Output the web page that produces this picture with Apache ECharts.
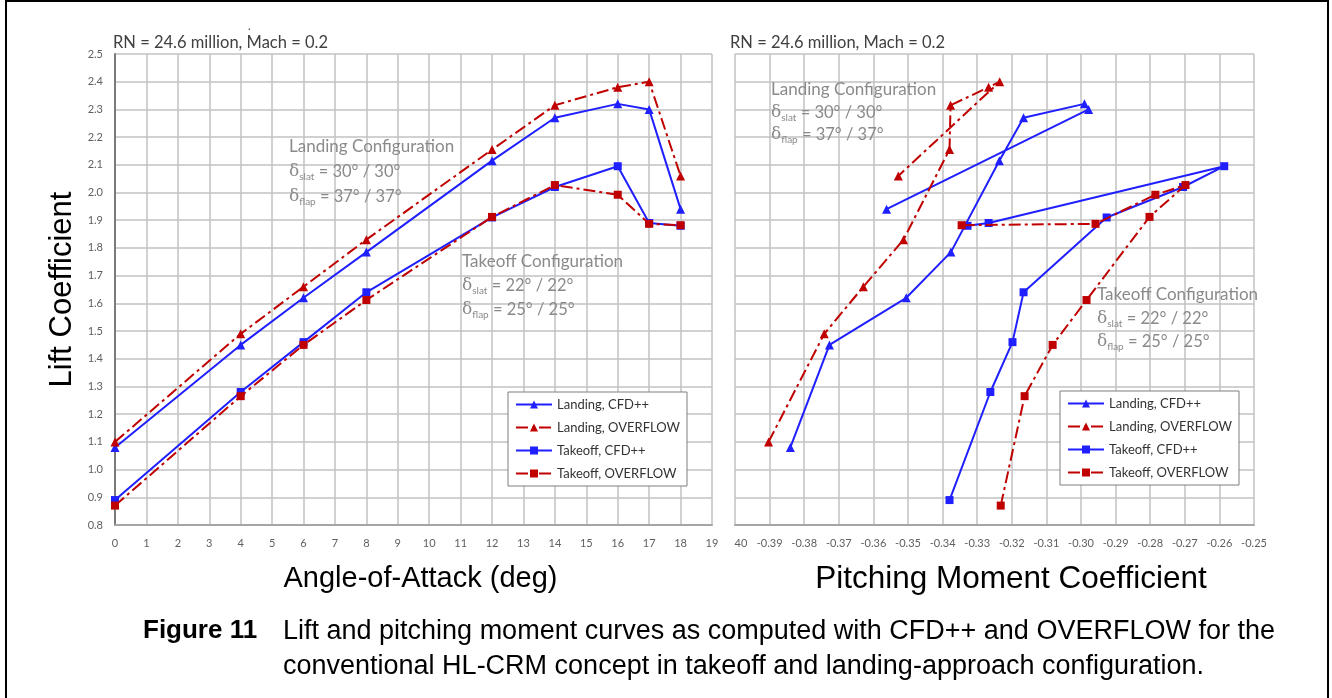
<!DOCTYPE html>
<html><head><meta charset="utf-8">
<script src="https://cdn.jsdelivr.net/npm/echarts@6/dist/echarts.min.js"></script>
<style>html,body{margin:0;padding:0;background:#fff}#c{width:1332px;height:698px}</style>
</head><body><div id="c"></div>
<script>
// ---- data ----
const aoa = [0, 4, 6, 8, 12, 14, 16, 17, 18];
const landingCfdCL = [1.08, 1.45, 1.62, 1.785, 2.115, 2.27, 2.32, 2.30, 1.94];
const landingOvfCL = [1.10, 1.49, 1.66, 1.83, 2.155, 2.315, 2.38, 2.40, 2.06];
const takeoffCfdCL = [0.89, 1.28, 1.46, 1.64, 1.91, 2.02, 2.095, 1.89, 1.88];
const takeoffOvfCL = [0.87, 1.265, 1.45, 1.612, 1.912, 2.027, 1.992, 1.887, 1.882];
const landingCfdCm = [-0.384, -0.3727, -0.3505, -0.3376, -0.3236, -0.3166, -0.2990, -0.2978, -0.3562];
const landingOvfCm = [-0.3903, -0.3742, -0.3629, -0.3513, -0.3380, -0.3377, -0.3267, -0.3235, -0.3528];
const takeoffCfdCm = [-0.3380, -0.3262, -0.3198, -0.3166, -0.2926, -0.2705, -0.2586, -0.3267, -0.3328];
const takeoffOvfCm = [-0.3232, -0.3163, -0.3082, -0.2984, -0.2802, -0.2698, -0.2785, -0.2958, -0.3345];
const clTicks = [0.8, 2.5, 0.1];        // min, max, step
const aoaTicks = [0, 19, 1];
const cmTicks = [-0.40, -0.25, 0.01];
const seriesNames = ['Landing, CFD++', 'Landing, OVERFLOW', 'Takeoff, CFD++', 'Takeoff, OVERFLOW'];
const topLabel = 'RN = 24.6 million, Mach = 0.2';

// ---- styles ----
const BLUE = '#1f1fff', RED = '#c00000';
const DASHDOT = [12, 4, 3, 4];
const styles = [
  {color: BLUE, symbol: 'triangle', size: 9, dash: 'solid'},
  {color: RED, symbol: 'triangle', size: 9, dash: DASHDOT},
  {color: BLUE, symbol: 'rect', size: 8, dash: 'solid'},
  {color: RED, symbol: 'rect', size: 8, dash: DASHDOT}
];
const clSets = [landingCfdCL, landingOvfCL, takeoffCfdCL, takeoffOvfCL];
const cmSets = [landingCfdCm, landingOvfCm, takeoffCfdCm, takeoffOvfCm];

const GRID_C = '#c2c2c2';
const TICK_C = '#5f5f5f';
const NOTE_C = '#8a8a8a';

function mkSeries(i, xIdx, pts) {
  const s = styles[i];
  return {
    name: seriesNames[i], type: 'line', xAxisIndex: xIdx, yAxisIndex: xIdx,
    data: pts, symbol: s.symbol, symbolSize: s.size, showSymbol: true,
    lineStyle: {color: s.color, width: 2, type: s.dash},
    itemStyle: {color: s.color}, z: 3 + i, animation: false
  };
}
const series = [];
for (let i = 0; i < 4; i++) series.push(mkSeries(i, 0, aoa.map((a, k) => [a, clSets[i][k]])));
for (let i = 0; i < 4; i++) series.push(mkSeries(i, 1, cmSets[i].map((c, k) => [c, clSets[i][k]])));

function yAxis(idx, showLabels) {
  return {
    type: 'value', gridIndex: idx, min: clTicks[0], max: clTicks[1], interval: clTicks[2],
    axisLine: {show: showLabels, lineStyle: {color: '#7a7a7a', width: 2}},
    axisTick: {show: false},
    axisLabel: {show: showLabels, color: TICK_C, fontFamily: 'Lato', fontSize: 11, margin: 12,
      formatter: v => v.toFixed(1)},
    splitLine: {show: true, lineStyle: {color: GRID_C, width: 1.5}},
    name: showLabels ? 'Lift Coefficient' : '', nameLocation: 'middle', nameRotate: 90, nameGap: 37,
    nameTextStyle: {fontFamily: 'Liberation Sans', fontSize: 31, color: '#000'}
  };
}

const legendBase = {
  data: seriesNames, orient: 'vertical', backgroundColor: '#fff',
  borderColor: '#7f7f7f', borderWidth: 1, padding: [6, 7, 6, 7], itemGap: 10,
  itemWidth: 36, itemHeight: 10, selectedMode: false,
  textStyle: {fontFamily: 'Lato', fontSize: 13, color: '#333'}
};

function note(x, y, text) {
  return {type: 'text', x, y, z: 20, style: {text, fill: NOTE_C, font: '17px Lato', textVerticalAlign: 'middle'}};
}
function deltaNote(x, y, sub, val) {
  return {type: 'text', x, y, z: 20, style: {
    text: '{d|δ}{s|' + sub + '}{v| = ' + val + '}', textVerticalAlign: 'middle',
    rich: {
      d: {fontFamily: 'DejaVu Serif', fontSize: 17, fill: NOTE_C, lineHeight: 20},
      s: {fontFamily: 'Lato', fontSize: 10, fill: NOTE_C, lineHeight: 20, verticalAlign: 'bottom'},
      v: {fontFamily: 'Lato', fontSize: 16.5, fill: NOTE_C, lineHeight: 20}
    }}};
}

const option = {
  animation: false,
  backgroundColor: '#fff',
  grid: [
    {left: 115, top: 54, width: 597, height: 471, containLabel: false},
    {left: 735, top: 54, width: 519, height: 471, containLabel: false}
  ],
  xAxis: [
    {type: 'value', gridIndex: 0, min: aoaTicks[0], max: aoaTicks[1], interval: aoaTicks[2],
     axisLine: {show: true, onZero: false, lineStyle: {color: '#a6a6a6', width: 2}},
     axisTick: {show: false},
     axisLabel: {color: TICK_C, fontFamily: 'Lato', fontSize: 11, margin: 13},
     splitLine: {show: true, lineStyle: {color: GRID_C, width: 1.5}},
     name: 'Angle-of-Attack (deg)', nameLocation: 'middle', nameGap: 39,
     nameTextStyle: {fontFamily: 'Liberation Sans', fontSize: 29, color: '#000', padding: [0, 0, 0, 14]}},
    {type: 'value', gridIndex: 1, min: cmTicks[0], max: cmTicks[1], interval: cmTicks[2],
     axisLine: {show: true, onZero: false, lineStyle: {color: '#a6a6a6', width: 2}},
     axisTick: {show: false},
     axisLabel: {color: TICK_C, fontFamily: 'Lato', fontSize: 11, margin: 13,
       formatter: v => (Math.abs(v - cmTicks[0]) < 1e-9 ? '{c|40}' : v.toFixed(2)),
       rich: {c: {color: TICK_C, fontFamily: 'Lato', fontSize: 11, padding: [0, 0, 0, 12]}}},
     splitLine: {show: true, lineStyle: {color: GRID_C, width: 1.5}},
     name: 'Pitching Moment Coefficient', nameLocation: 'middle', nameGap: 38,
     nameTextStyle: {fontFamily: 'Liberation Sans', fontSize: 31.5, color: '#000', padding: [0, 0, 0, 33]}}
  ],
  yAxis: [yAxis(0, true), yAxis(1, false)],
  legend: [
    Object.assign({}, legendBase, {left: 508, top: 392}),
    Object.assign({}, legendBase, {left: 1060, top: 391})
  ],
  series,
  graphic: [
    {type: 'rect', z: 0, shape: {x: 6, y: 1, width: 1322, height: 740}, style: {fill: 'none', stroke: '#000', lineWidth: 2}},
    {type: 'text', x: 113, y: 43, z: 20, style: {text: topLabel, fill: '#404040', font: '16.5px Lato', textVerticalAlign: 'middle'}},
    {type: 'text', x: 730, y: 43, z: 20, style: {text: topLabel, fill: '#404040', font: '16.5px Lato', textVerticalAlign: 'middle'}},
    {type: 'text', x: 248, y: 26, z: 20, style: {text: '.', fill: '#404040', font: '12px Lato', textVerticalAlign: 'middle'}},
    note(289, 147, 'Landing Configuration'),
    deltaNote(289, 172, 'slat', '30° / 30°'),
    deltaNote(289, 197, 'flap', '37° / 37°'),
    note(462, 262, 'Takeoff Configuration'),
    deltaNote(462, 286, 'slat', '22° / 22°'),
    deltaNote(462, 310, 'flap', '25° / 25°'),
    note(771, 90, 'Landing Configuration'),
    deltaNote(771, 113, 'slat', '30° / 30°'),
    deltaNote(771, 135, 'flap', '37° / 37°'),
    note(1097, 295, 'Takeoff Configuration'),
    deltaNote(1097, 319, 'slat', '22° / 22°'),
    deltaNote(1097, 342, 'flap', '25° / 25°'),
    {type: 'text', x: 143, y: 631, z: 20, style: {text: 'Figure 11', fill: '#000', font: 'bold 26px "Liberation Sans"', textVerticalAlign: 'middle'}},
    {type: 'text', x: 283, y: 632, z: 20, style: {text: 'Lift and pitching moment curves as computed with CFD++ and OVERFLOW for the', fill: '#000', font: '27px "Liberation Sans"', textVerticalAlign: 'middle'}},
    {type: 'text', x: 283, y: 667, z: 20, style: {text: 'conventional HL-CRM concept in takeoff and landing-approach configuration.', fill: '#000', font: '27px "Liberation Sans"', textVerticalAlign: 'middle'}}
  ]
};

const chart = echarts.init(document.getElementById('c'), null, {renderer: 'canvas'});
chart.setOption(option);
</script>
</body></html>
